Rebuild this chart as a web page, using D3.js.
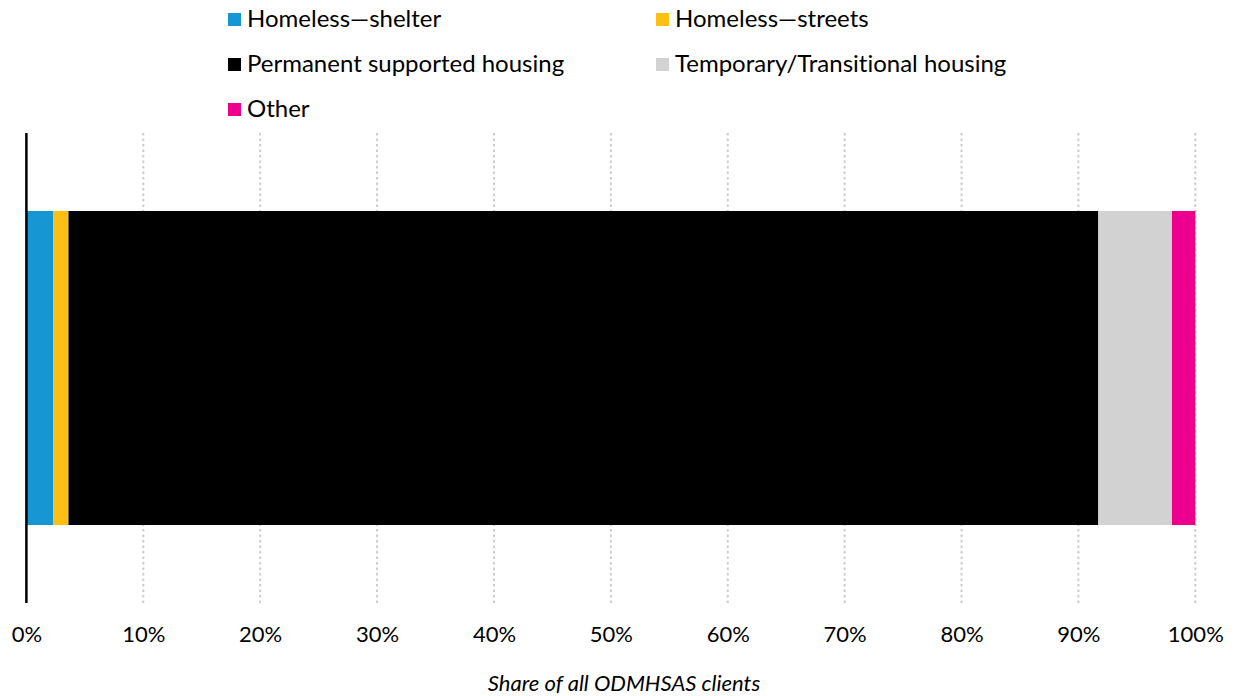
<!DOCTYPE html>
<html>
<head>
<meta charset="utf-8">
<script src="https://cdn.jsdelivr.net/npm/d3@7"></script>
<style>
  body { margin: 0; background: #fff; }
  svg { font-family: Lato, "Open Sans", sans-serif; font-variant-ligatures: none; font-feature-settings: "liga" 0, "dlig" 0; }
</style>
</head>
<body>
<svg width="1234" height="696"></svg>
<script>
const categories = ["Homeless\u2014shelter", "Homeless\u2014streets", "Permanent supported housing", "Temporary/Transitional housing", "Other"];
const shares = [0.023, 0.013, 0.881, 0.063, 0.020];
const colors = ["#1696d2", "#fdbf11", "#000000", "#d2d2d2", "#ec008b"];
const tickValues = [0, 0.1, 0.2, 0.3, 0.4, 0.5, 0.6, 0.7, 0.8, 0.9, 1];
const axisTitle = "Share of all ODMHSAS clients";

const svg = d3.select("svg");
const margin = { left: 26.4, right: 38.7, top: 133, bottom: 93 };
const width = +svg.attr("width");
const height = +svg.attr("height");

const x = d3.scaleLinear()
  .domain([0, 1])
  .range([margin.left, width - margin.right]);

const y = d3.scaleBand()
  .domain(["all"])
  .range([margin.top, height - margin.bottom])
  .paddingInner(0)
  .paddingOuter(0.2484);

// gridlines
svg.append("g")
  .selectAll("line")
  .data(tickValues.slice(1))
  .enter()
  .append("line")
  .attr("x1", d => x(d))
  .attr("x2", d => x(d))
  .attr("y1", margin.top)
  .attr("y2", height - margin.bottom)
  .attr("stroke", "#cccccc")
  .attr("stroke-width", 2)
  .attr("stroke-dasharray", "2.5,3");

// stacked segments
let acc = 0;
const segs = shares.map((v, i) => {
  const s = { start: acc, end: acc + v, color: colors[i], name: categories[i] };
  acc += v;
  return s;
});

svg.append("g")
  .selectAll("rect")
  .data(segs)
  .enter()
  .append("rect")
  .attr("x", d => x(d.start))
  .attr("width", d => x(d.end) - x(d.start))
  .attr("y", y("all"))
  .attr("height", y.bandwidth())
  .attr("fill", d => d.color)
  .append("title")
  .text(d => `${d.name}: ${d3.format(".1%")(d.end - d.start)}`);

// left axis line
svg.append("line")
  .attr("x1", x(0))
  .attr("x2", x(0))
  .attr("y1", margin.top)
  .attr("y2", height - margin.bottom)
  .attr("stroke", "#000")
  .attr("stroke-width", 2.5);

// x axis labels
const xAxis = d3.axisBottom(x)
  .tickValues(tickValues)
  .tickFormat(d3.format(".0%"))
  .tickSize(0)
  .tickPadding(0);

const gx = svg.append("g")
  .attr("transform", `translate(0, ${height - margin.bottom + 23})`)
  .call(xAxis);
gx.select(".domain").remove();
gx.selectAll("text")
  .attr("font-family", "Lato, sans-serif")
  .attr("font-size", 22)
  .attr("fill", "#000");

svg.append("text")
  .attr("x", 624)
  .attr("y", 691)
  .attr("text-anchor", "middle")
  .attr("font-size", 22)
  .attr("font-style", "italic")
  .attr("fill", "#000")
  .text(axisTitle);

// legend
const legendPos = [[228, 19.5], [656, 19.5], [228, 64.5], [656, 64.5], [228, 109.5]];
const legend = svg.append("g")
  .selectAll("g")
  .data(categories)
  .enter()
  .append("g")
  .attr("transform", (d, i) => `translate(${legendPos[i][0]}, ${legendPos[i][1]})`);

legend.append("rect")
  .attr("x", 0)
  .attr("y", -6.5)
  .attr("width", 13)
  .attr("height", 13)
  .attr("fill", (d, i) => colors[i]);

legend.append("text")
  .attr("x", 19)
  .attr("y", -1)
  .attr("dy", "0.35em")
  .attr("font-size", 24)
  .attr("fill", "#000")
  .text(d => d);
</script>
</body>
</html>
